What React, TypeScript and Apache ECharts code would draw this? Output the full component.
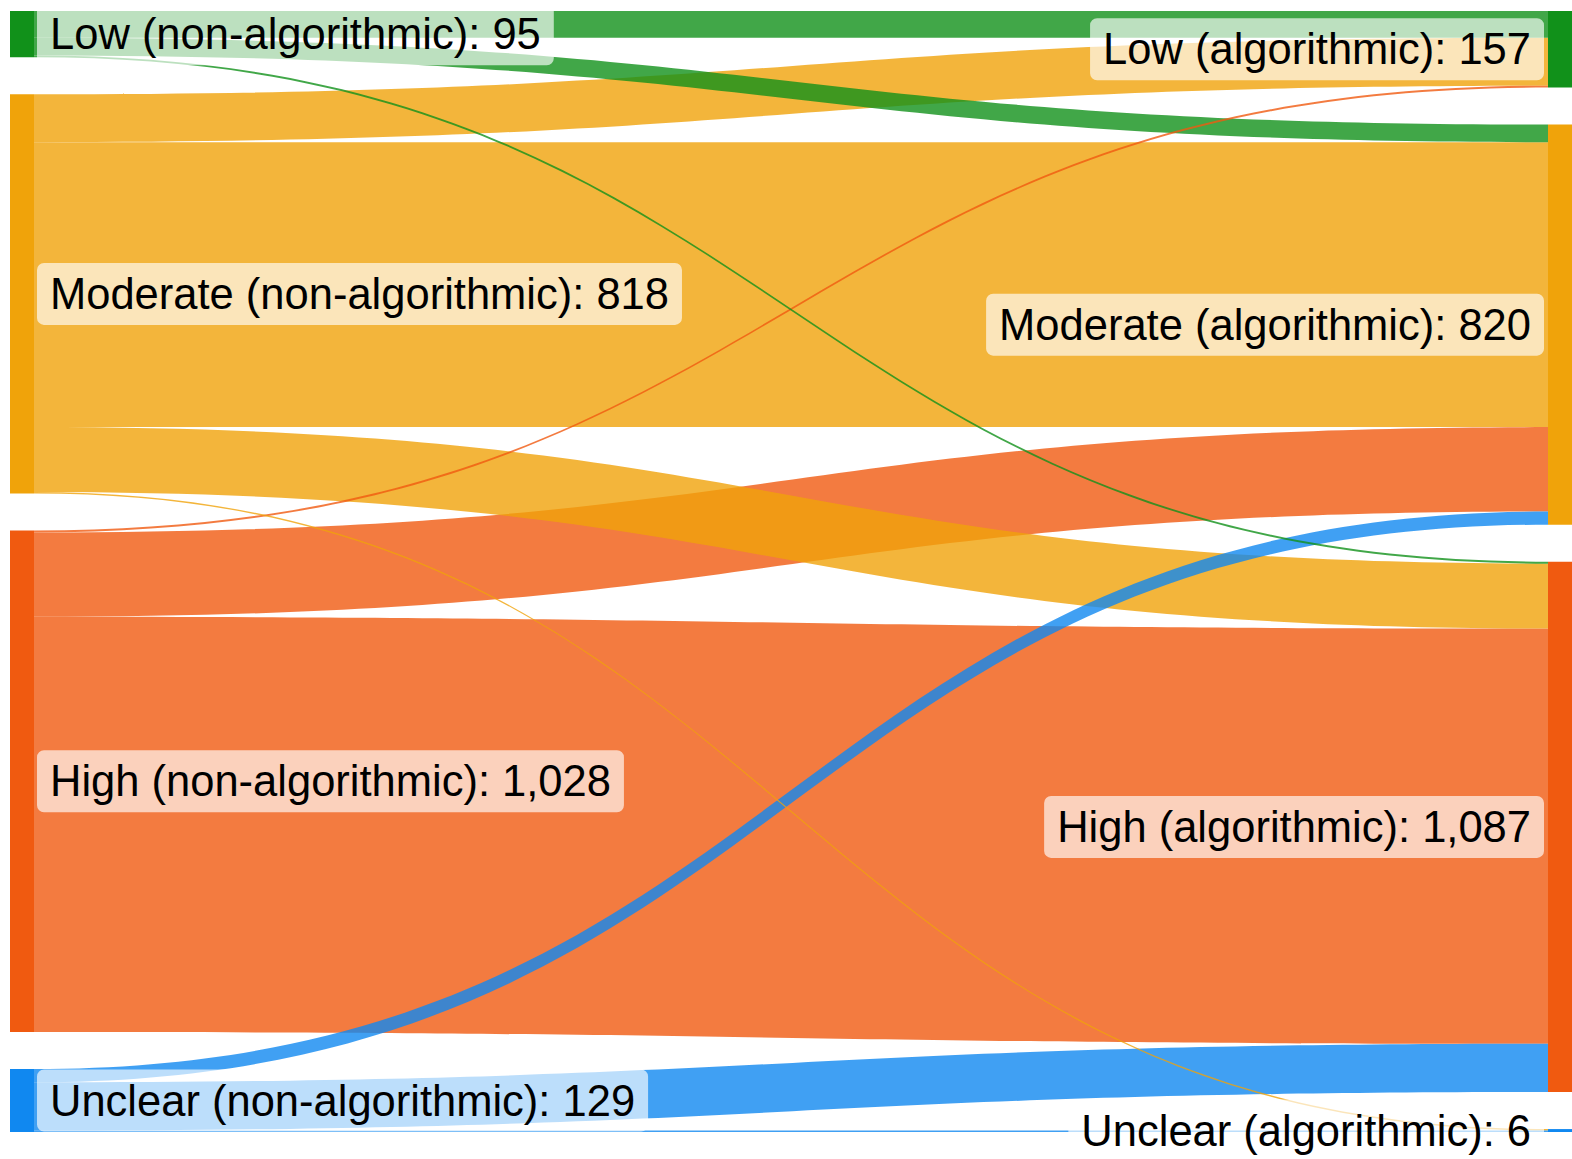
import React, { useEffect, useRef } from "react";
import * as echarts from "echarts";

const leftNodes = ["Low (non-algorithmic)", "Moderate (non-algorithmic)", "High (non-algorithmic)", "Unclear (non-algorithmic)"];
const rightNodes = ["Low (algorithmic)", "Moderate (algorithmic)", "High (algorithmic)", "Unclear (algorithmic)"];
const nodeColors = ["#11911a", "#f0a30a", "#f05a10", "#1088f0"];

// links: [sourceIndex(left), targetIndex(right), value], ordered by drawing order (largest first)
const linkSources = [2, 1, 2, 1, 3, 1, 0, 0, 3, 2, 0, 1, 3];
const linkTargets = [2, 1, 1, 2, 2, 0, 0, 1, 1, 0, 2, 3, 3];
const linkValues = [851, 584, 173, 133, 99, 98, 55, 36, 27, 4, 4, 3, 3];

const fmt = new Intl.NumberFormat("en-US");

export default function App() {
  const ref = useRef<HTMLDivElement>(null);
  useEffect(() => {
    if (!ref.current) return;
    const chart = echarts.init(ref.current, null, { renderer: "svg" });
    const labelBase = {
      show: true,
      fontSize: 43.5,
      lineHeight: 52,
      fontFamily: "Liberation Sans, Arial, sans-serif",
      color: "#000",
      backgroundColor: "rgba(255,255,255,0.65)",
      borderRadius: 7,
      padding: [5, 13],
      formatter: (p: any) => `${p.name}: ${fmt.format(p.value)}`,
    };
    const data = [
      ...leftNodes.map((n, i) => ({
        name: n,
        itemStyle: { color: nodeColors[i], borderWidth: 0 },
        label: { position: "right", distance: 3 },
      })),
      ...rightNodes.map((n, i) => ({
        name: n,
        itemStyle: { color: nodeColors[i], borderWidth: 0 },
        label: { position: "left", distance: 4 },
      })),
    ];
    const links = linkValues.map((v, i) => ({
      source: leftNodes[linkSources[i]],
      target: rightNodes[linkTargets[i]],
      value: v,
    }));
    chart.setOption({
      animation: false,
      series: [
        {
          type: "sankey",
          left: 10,
          top: 11,
          right: 0,
          bottom: 27,
          nodeWidth: 24,
          nodeGap: 37,
          layoutIterations: 0,
          draggable: false,
          emphasis: { disabled: true },
          data,
          links,
          label: labelBase,
          itemStyle: { borderWidth: 0 },
          lineStyle: { color: "source", opacity: 0.8, curveness: 0.5 },
        },
      ],
    });
    return () => chart.dispose();
  }, []);
  return (
    <div
      ref={ref}
      style={{ position: "absolute", left: 0, top: 0, width: 1572, height: 1159, background: "#fff" }}
    />
  );
}
